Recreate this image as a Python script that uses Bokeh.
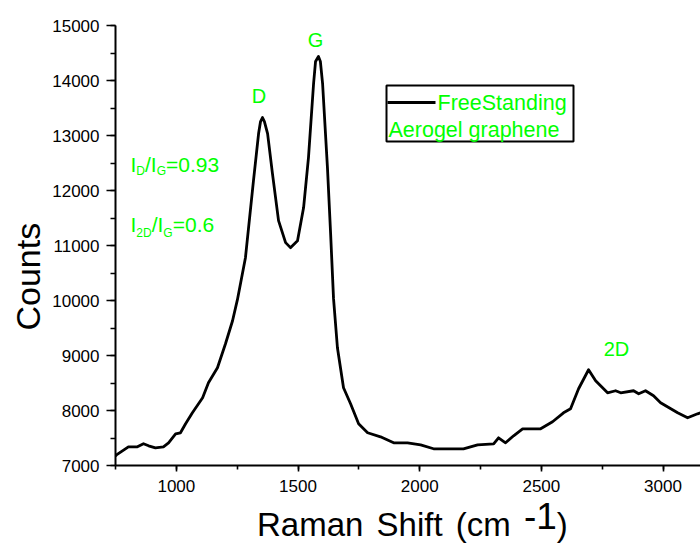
from bokeh.plotting import figure
from bokeh.models import Range1d, SingleIntervalTicker, Label, BoxAnnotation, Title, Div
from bokeh.layouts import column
from bokeh.embed import file_html
from bokeh.resources import INLINE

# ---- data ----
raman_shift = [750, 754, 803, 840, 865, 886, 914, 947, 968, 997, 1017, 1038, 1066, 1108,
               1132, 1169, 1202, 1231, 1251, 1284, 1317, 1338, 1346, 1354, 1362, 1375, 1395,
               1420, 1449, 1469, 1498, 1523, 1543, 1564, 1572, 1584, 1592, 1601, 1621, 1634,
               1646, 1662, 1687, 1716, 1749, 1786, 1839, 1893, 1950, 2004, 2057, 2115, 2180,
               2238, 2304, 2324, 2353, 2386, 2423, 2456, 2497, 2546, 2591, 2620, 2653, 2694,
               2723, 2772, 2805, 2826, 2879, 2900, 2928, 2961, 2990, 3060, 3101, 3142, 3154]
counts = [7170, 7194, 7340, 7340, 7395, 7358, 7322, 7340, 7413, 7576, 7595, 7758, 7958, 8231,
          8504, 8777, 9214, 9632, 10015, 10779, 12180, 13035, 13253, 13326, 13253, 13035, 12307,
          11452, 11052, 10961, 11088, 11689, 12598, 13945, 14345, 14436, 14345, 13945, 12416, 11215,
          10033, 9141, 8413, 8122, 7758, 7595, 7522, 7413, 7413, 7376, 7304, 7304, 7304,
          7376, 7395, 7504, 7413, 7540, 7667, 7667, 7667, 7795, 7958, 8031, 8395, 8741,
          8541, 8322, 8359, 8322, 8359, 8304, 8359, 8268, 8140, 7958, 7868, 7940, 7958]

X_START, X_END = 750, 3154
Y_START, Y_END = 7000, 15000
X_TICK_STEP = 500
Y_TICK_STEP = 1000

peak_labels = ["D", "G", "2D"]
legend_lines = ["FreeStanding", "Aerogel graphene"]
x_label_main, x_label_sup, x_label_end = "Raman Shift (cm", "-1", ")"
y_label = "Counts"

GREEN = "#00ff00"
FONT = "Liberation Sans"

# ---- layout helpers (page pixel -> data space, for annotation placement) ----
FRAME_L, FRAME_R, FRAME_T, FRAME_B = 115, 700, 25, 465
FIG_W, FIG_H, DIV_H = 700, 500, 42
TEXT_SHIFT = 8  # empirical correction of the label baseline


def dx(px):
    return X_START + (px - FRAME_L) * (X_END - X_START) / (FRAME_R - FRAME_L)


def dy(py):
    return Y_END - (py - FRAME_T) * (Y_END - Y_START) / (FRAME_B - FRAME_T)


ARIAL_W = {"I": .278, "D": .722, "G": .778, "/": .278, "=": .584, ".": .278, "-": .333,
           ")": .333, "2": .556, "0": .556, "9": .556, "3": .556, "6": .556}


def text_w(s, size):
    return sum(ARIAL_W.get(c, .556) for c in s) * size


p = figure(width=FIG_W, height=FIG_H, x_range=Range1d(X_START, X_END),
           y_range=Range1d(Y_START, Y_END), output_backend="svg", toolbar_location=None,
           min_border_left=FRAME_L, min_border_right=0, min_border_top=FRAME_T,
           min_border_bottom=FIG_H - FRAME_B)
p.outline_line_color = None
p.xgrid.visible = False
p.ygrid.visible = False
p.background_fill_color = "white"
p.border_fill_color = "white"

p.line(raman_shift, counts, line_color="black", line_width=2.8, line_join="round")

p.xaxis.ticker = SingleIntervalTicker(interval=X_TICK_STEP, num_minor_ticks=2)
p.yaxis.ticker = SingleIntervalTicker(interval=Y_TICK_STEP, num_minor_ticks=2)
for ax in (p.xaxis[0], p.yaxis[0]):
    ax.axis_line_color = "black"
    ax.axis_line_width = 2
    ax.major_tick_line_color = "black"
    ax.major_tick_line_width = 1.6
    ax.minor_tick_line_color = "black"
    ax.minor_tick_line_width = 1.6
    ax.major_tick_in = 0
    ax.minor_tick_in = 0
    ax.major_label_text_font = FONT
    ax.major_label_text_font_size = "17px"
    ax.major_label_text_color = "black"
    ax.axis_label = None
p.xaxis.major_tick_out = 6
p.xaxis.minor_tick_out = 4
p.xaxis.major_label_standoff = 8
p.yaxis.major_tick_out = 9
p.yaxis.minor_tick_out = 5
p.yaxis.major_label_standoff = 7

# y axis title
p.add_layout(Title(text=y_label, align="left", offset=135, text_font=FONT,
                   text_font_size="34px", text_font_style="normal", text_color="black",
                   standoff=6), "left")


def lab(px, py, text, size, align="left", color=GREEN):
    p.add_layout(Label(x=dx(px), y=dy(py - TEXT_SHIFT), text=text, text_font=FONT,
                       text_font_size=f"{size}px", text_color=color, text_align=align,
                       text_baseline="alphabetic"))


# peak labels
lab(258.5, 103, peak_labels[0], 20, "center")
lab(315, 47, peak_labels[1], 20, "center")
lab(616, 356, peak_labels[2], 20, "center")


# ratio annotations with subscripts
def rich(px, py, parts):
    for text, size, shift in parts:
        lab(px, py + shift, text, size)
        px += text_w(text, size)


rich(130, 172, [("I", 21, 0), ("D", 12, 6), ("/I", 21, 0), ("G", 12, 6), ("=0.93", 21, 0)])
rich(130, 232, [("I", 21, 0), ("2D", 12, 8), ("/I", 21, 0), ("G", 12, 8), ("=0.6", 21, 0)])

# legend box
p.add_layout(BoxAnnotation(left=dx(386), right=dx(573), top=dy(85), bottom=dy(141),
                           fill_alpha=0, line_color="black", line_alpha=1, line_width=2))
p.segment(x0=[dx(387)], y0=[dy(102)], x1=[dx(435)], y1=[dy(102)], line_color="black",
          line_width=2.8)
lab(437, 110, legend_lines[0], 21.5)
lab(388, 137, legend_lines[1], 21.5)

# x axis title (with superscript) as HTML below the plot
xtitle = Div(
    text=(f'<div style="font-family:\'{FONT}\'; font-size:33px; color:black; '
          f'line-height:{DIV_H}px; padding-top:3px; padding-left:257px; word-spacing:4px; '
          f'white-space:nowrap; margin:0">'
          f'{x_label_main} <span style="font-size:37px; position:relative; top:-7px">'
          f'{x_label_sup}</span>{x_label_end}</div>'),
    width=FIG_W, height=DIV_H, margin=(0, 0, 0, 0))

layout = column(p, xtitle, spacing=0)

open("out.html", "w").write(file_html(layout, INLINE))
